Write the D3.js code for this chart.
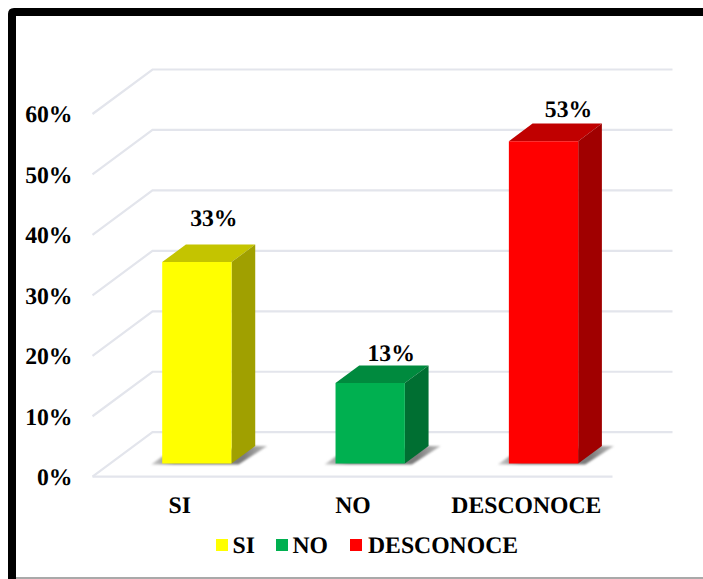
<!DOCTYPE html>
<html><head><meta charset="utf-8">
<script src="https://cdn.jsdelivr.net/npm/d3@7"></script>
<style>
html,body{margin:0;padding:0;background:#fff;overflow:hidden}
svg{display:block}
text{font-family:"Liberation Serif","Times New Roman",serif;font-weight:bold;fill:#000;text-rendering:geometricPrecision}
</style></head><body>
<svg id="c" width="703" height="579"></svg>
<script>
const categories=["SI","NO","DESCONOCE"];
const values=[33.33,13.33,53.33];
const valueLabels=["33%","13%","53%"];
const tickValues=[0,10,20,30,40,50,60];
const frontColors=["#ffff00","#00b050","#ff0000"];
const topColors=["#c4c400","#008a3e","#c00000"];
const sideColors=["#a0a000","#006f32","#a00000"];

const svg=d3.select("#c");
const FS=23.7;
const depthX=60,depthY=44.5;
const x=d3.scaleBand().domain(categories).range([92.5,612.5]).paddingInner(0.6).paddingOuter(0.3);
const xAxisBand=d3.scaleBand().domain(categories).range([92.5,612.5]);
const y=d3.scaleLinear().domain([0,60]).range([476.7,114]);
const P=(px,v,d)=>[px+depthX*d,y(v)-depthY*d];
const poly=pts=>pts.map(p=>p.join(",")).join(" ");
const d0=0.295,d1=0.69;

const defs=svg.append("defs");
defs.append("filter").attr("id","blur").append("feGaussianBlur").attr("stdDeviation",0.8);
const grad=defs.append("linearGradient").attr("id","sh").attr("x1",0).attr("x2",1).attr("y1",0).attr("y2",0);
grad.append("stop").attr("offset","0").attr("stop-color","#d0d0d0");
grad.append("stop").attr("offset","0.2").attr("stop-color","#7c7c7c");
grad.append("stop").attr("offset","0.8").attr("stop-color","#7c7c7c");
grad.append("stop").attr("offset","1").attr("stop-color","#c0c0c0");

// frame
svg.append("path")
  .attr("d","M12 579V14Q12 12 14 12H703")
  .attr("fill","none").attr("stroke","#000").attr("stroke-width",8);
svg.append("line").attr("x1",16).attr("x2",703).attr("y1",578).attr("y2",578).attr("stroke","#555").attr("stroke-width",1.2);

// grid
const grid=svg.append("g").attr("fill","none").attr("stroke","#e3e5ec").attr("stroke-width",2.2);
tickValues.forEach(t=>{
  grid.append("polyline").attr("points",poly([P(x.range()[0],t,0),P(x.range()[0],t,1),P(x.range()[1],t,1)]));
});
grid.append("line").attr("x1",92.5).attr("x2",612.5).attr("y1",y(0)).attr("y2",y(0));

// axes
const yAxis=d3.axisLeft(y).tickValues(tickValues).tickFormat(d=>d+"%").tickSize(0).tickPadding(20);
const gy=svg.append("g").attr("transform","translate(92.5,0)").call(yAxis);
gy.select(".domain").remove();
gy.selectAll("text").attr("font-size",FS).attr("font-family",null).attr("dy","0.33em");
const xAxis=d3.axisBottom(xAxisBand).tickSize(0).tickPadding(19);
const gx=svg.append("g").attr("transform",`translate(0.5,${y(0)})`).call(xAxis);
gx.select(".domain").remove();
gx.selectAll("text").attr("font-size",FS).attr("font-family",null).attr("dy","0.71em");

// bars
categories.forEach((c,i)=>{
  const l=x(c),r=l+x.bandwidth(),v=values[i];
  const g=svg.append("g");
  const [blx,bly]=P(l,0,d0),[brx,bry]=P(r,0,d0);
  const [bkx,bky]=P(r,0,d1);
  g.append("polygon").attr("points",poly([[blx-11,bly+1],[blx,bly-7],[bkx,bky],[bkx+12,bky],[brx+7,bry+1]]))
    .attr("fill","url(#sh)").attr("filter","url(#blur)");
  g.append("polygon").attr("points",poly([P(l,v,d0),P(l,v,d1),P(r,v,d1),P(r,v,d0)])).attr("fill",topColors[i]);
  g.append("polygon").attr("points",poly([P(r,v,d0),P(r,v,d1),P(r,0,d1),P(r,0,d0)])).attr("fill",sideColors[i]);
  g.append("polygon").attr("points",poly([P(l,v,d0),P(r,v,d0),P(r,0,d0),P(l,0,d0)])).attr("fill",frontColors[i]);
});

// value labels
const labelOffsets=[[17,-44],[21,-30],[25,-32]];
categories.forEach((c,i)=>{
  const cx=x(c)+x.bandwidth()/2;
  const p=P(cx,values[i],d0);
  svg.append("text").attr("x",p[0]+labelOffsets[i][0]).attr("y",p[1]+labelOffsets[i][1])
    .attr("text-anchor","middle").attr("font-size",FS).attr("dy","0.33em").text(valueLabels[i]);
});

// legend
const legendX=[216,276,350];
categories.forEach((c,i)=>{
  svg.append("rect").attr("x",legendX[i]).attr("y",539).attr("width",12).attr("height",12).attr("fill",frontColors[i]);
  svg.append("text").attr("x",legendX[i]+(i===2?18:16.5)).attr("y",545).attr("dy","0.33em").attr("font-size",FS).text(c);
});
</script></body></html>
